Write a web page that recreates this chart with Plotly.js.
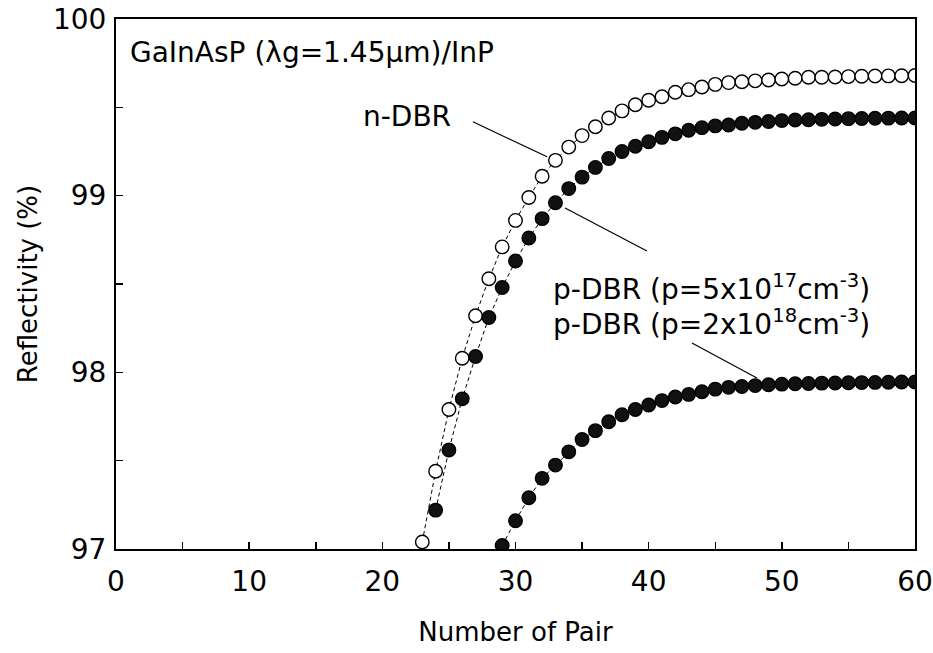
<!DOCTYPE html>
<html>
<head>
<meta charset="utf-8">
<script src="https://cdn.plot.ly/plotly-3.0.1.min.js"></script>
<style>html,body{margin:0;padding:0;background:#fff;}#chart{width:933px;height:653px;}</style>
</head>
<body>
<div id="chart"></div>
<script>
// Number of pairs for each series
var pairsN = [23,24,25,26,27,28,29,30,31,32,33,34,35,36,37,38,39,40,41,42,43,44,45,46,47,48,49,50,51,52,53,54,55,56,57,58,59,60];
var reflN  = [97.04,97.44,97.79,98.08,98.32,98.53,98.71,98.86,98.99,99.11,99.20,99.275,99.34,99.39,99.44,99.48,99.515,99.54,99.56,99.585,99.60,99.615,99.63,99.64,99.645,99.65,99.655,99.66,99.665,99.67,99.67,99.672,99.674,99.676,99.677,99.678,99.679,99.68];

var pairsP1 = [24,25,26,27,28,29,30,31,32,33,34,35,36,37,38,39,40,41,42,43,44,45,46,47,48,49,50,51,52,53,54,55,56,57,58,59,60];
var reflP1  = [97.22,97.56,97.85,98.09,98.31,98.48,98.63,98.76,98.87,98.96,99.04,99.105,99.16,99.21,99.25,99.28,99.305,99.33,99.35,99.37,99.385,99.395,99.40,99.41,99.415,99.42,99.425,99.428,99.43,99.432,99.434,99.436,99.437,99.438,99.439,99.44,99.44];

var pairsP2 = [29,30,31,32,33,34,35,36,37,38,39,40,41,42,43,44,45,46,47,48,49,50,51,52,53,54,55,56,57,58,59,60];
var reflP2  = [97.02,97.16,97.29,97.40,97.475,97.55,97.62,97.67,97.72,97.76,97.79,97.815,97.84,97.86,97.875,97.89,97.905,97.915,97.92,97.925,97.93,97.933,97.935,97.937,97.939,97.94,97.941,97.942,97.943,97.944,97.945,97.945];

var xTickVals = [0,10,20,30,40,50,60];
var yTickVals = [97,98,99,100];

var FONT = '"DejaVu Sans", "Liberation Sans", Arial, sans-serif';

function series(x, y, filled) {
  return {
    x: x, y: y, type: 'scatter', mode: 'lines+markers',
    line: {color: '#000', width: 1, dash: '4px,3px'},
    marker: {size: 13.5, symbol: 'circle', color: filled ? '#111' : '#fff',
             line: {color: '#000', width: 1.4}},
    showlegend: false, hoverinfo: 'x+y'
  };
}

var data = [series(pairsN, reflN, false), series(pairsP1, reflP1, true), series(pairsP2, reflP2, true)];

var axisCommon = {
  showgrid: false, zeroline: false, showline: true, linecolor: '#000', linewidth: 2,
  mirror: true, ticks: 'inside', ticklen: 7, tickwidth: 1.5, tickcolor: '#000',
  tickfont: {family: FONT, size: 28, color: '#000'}
};

var annFont = {family: FONT, size: 28, color: '#000'};

var layout = {
  width: 933, height: 653,
  margin: {l: 116, r: 18, t: 19, b: 104},
  paper_bgcolor: '#fff', plot_bgcolor: '#fff',
  font: {family: FONT, color: '#000'},
  xaxis: Object.assign({}, axisCommon, {
    range: [0, 60], tickvals: xTickVals, ticktext: xTickVals.map(String),
    ticklabelstandoff: 6,
    minor: {dtick: 5, tick0: 0, ticks: 'inside', ticklen: 7, tickwidth: 1.5, tickcolor: '#000'},
    title: {text: 'Number of Pair', font: {family: FONT, size: 26, color: '#000'}, standoff: 26}
  }),
  yaxis: Object.assign({}, axisCommon, {
    range: [97, 100], tickvals: yTickVals, ticktext: yTickVals.map(String),
    ticklabelstandoff: 2,
    minor: {dtick: 0.5, tick0: 97, ticks: 'inside', ticklen: 7, tickwidth: 1.5, tickcolor: '#000'},
    title: {text: 'Reflectivity (%)', font: {family: FONT, size: 26, color: '#000'}, standoff: 8}
  }),
  annotations: [
    {text: 'GaInAsP (\u03bbg=1.45\u03bcm)/InP', x: 0.9, y: 99.81, xref: 'x', yref: 'y',
     xanchor: 'left', yanchor: 'middle', showarrow: false, font: annFont},
    {text: 'n-DBR', x: 18.4, y: 99.45, xref: 'x', yref: 'y',
     xanchor: 'left', yanchor: 'middle', showarrow: false, font: annFont},
    {text: 'p-DBR (p=5x10<sup>17</sup>cm<sup>-3</sup>)', x: 32.7, y: 98.48, xref: 'x', yref: 'y',
     xanchor: 'left', yanchor: 'middle', showarrow: false, font: annFont},
    {text: 'p-DBR (p=2x10<sup>18</sup>cm<sup>-3</sup>)', x: 32.7, y: 98.28, xref: 'x', yref: 'y',
     xanchor: 'left', yanchor: 'middle', showarrow: false, font: annFont}
  ],
  shapes: [
    {type: 'line', xref: 'x', yref: 'y', x0: 26.8, y0: 99.418, x1: 32.37, y1: 99.22, line: {color: '#000', width: 1.2}},
    {type: 'line', xref: 'x', yref: 'y', x0: 33.72, y0: 98.93, x1: 39.87, y1: 98.687, line: {color: '#000', width: 1.2}},
    {type: 'line', xref: 'x', yref: 'y', x0: 43.25, y0: 98.166, x1: 48.13, y1: 97.968, line: {color: '#000', width: 1.2}}
  ]
};

Plotly.newPlot('chart', data, layout, {displayModeBar: false, staticPlot: true});
</script>
</body>
</html>
